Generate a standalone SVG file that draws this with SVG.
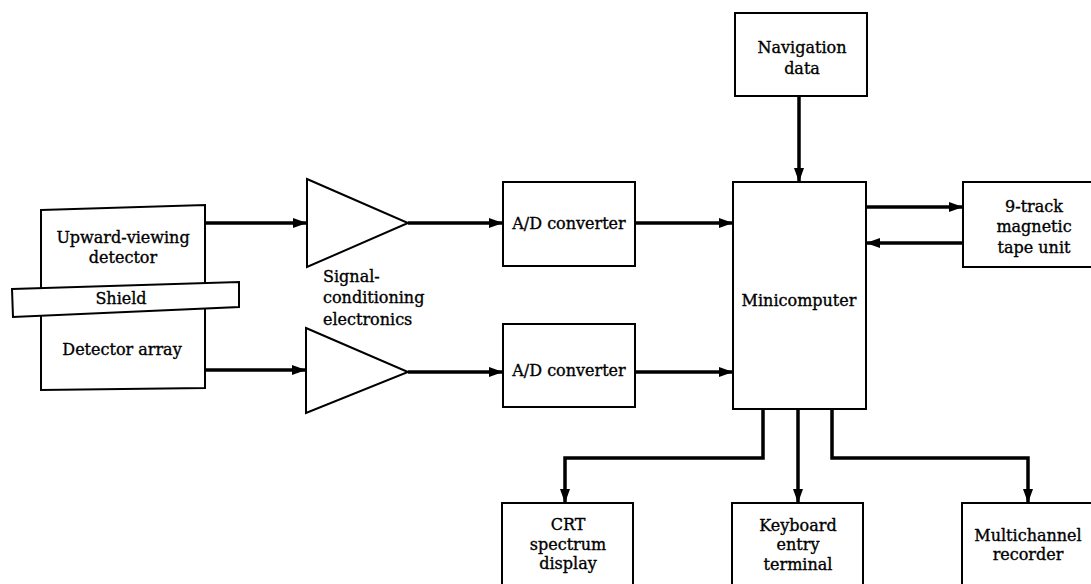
<svg xmlns="http://www.w3.org/2000/svg" width="1091" height="584" viewBox="0 0 1091 584">
<defs>
<style>
.box{fill:#fff;stroke:#000;stroke-width:2}
.t{font-family:"DejaVu Serif","Liberation Serif",serif;font-size:16px;fill:#000;stroke:#000;stroke-width:0.35;text-anchor:middle}
.tl{font-family:"DejaVu Serif","Liberation Serif",serif;font-size:16px;fill:#000;stroke:#000;stroke-width:0.35}
.c{fill:none;stroke:#000;stroke-width:3.5}
</style>
<marker id="ah" viewBox="0 0 14 10" refX="14" refY="5" markerWidth="14" markerHeight="10" markerUnits="userSpaceOnUse" orient="auto">
<path d="M0,0 L14,5 L0,10 Z" fill="#000"/>
</marker>
</defs>
<rect width="1091" height="584" fill="#fff"/>

<g id="detector">
<polygon class="box" points="41,210 205,205 205,388 41,390"/>
<text class="t" x="123" y="243">Upward-viewing</text>
<text class="t" x="123" y="263">detector</text>
<text class="t" x="122" y="355">Detector array</text>
</g>
<g id="shield">
<polygon class="box" points="12,289 239,282 239,307 13,317"/>
<text class="t" x="121" y="304">Shield</text>
</g>

<g id="amp-top">
<polygon class="box" points="307,179 408,223 307,267"/>
</g>
<g id="amp-bottom">
<polygon class="box" points="306,328 408,372 306,413"/>
</g>
<g id="amp-label">
<text class="tl" x="323" y="282">Signal-</text>
<text class="tl" x="323" y="303">conditioning</text>
<text class="tl" x="323" y="325">electronics</text>
</g>

<g id="ad-top">
<rect class="box" x="503" y="182" width="132" height="84"/>
<text class="t" x="569" y="229">A/D converter</text>
</g>
<g id="ad-bottom">
<rect class="box" x="503" y="324" width="132" height="83"/>
<text class="t" x="569" y="376">A/D converter</text>
</g>

<g id="navigation">
<rect class="box" x="735" y="13" width="132" height="83"/>
<text class="t" x="802" y="53">Navigation</text>
<text class="t" x="802" y="74">data</text>
</g>

<g id="minicomputer">
<rect class="box" x="733" y="182" width="133" height="227"/>
<text class="t" x="799" y="306">Minicomputer</text>
</g>

<g id="tape">
<rect class="box" x="963" y="182" width="130" height="85"/>
<text class="t" x="1034" y="212">9-track</text>
<text class="t" x="1034" y="232">magnetic</text>
<text class="t" x="1034" y="253">tape unit</text>
</g>

<g id="crt">
<rect class="box" x="502" y="503" width="131" height="90"/>
<text class="t" x="568" y="530">CRT</text>
<text class="t" x="568" y="550">spectrum</text>
<text class="t" x="568" y="569">display</text>
</g>
<g id="keyboard">
<rect class="box" x="732" y="503" width="131" height="90"/>
<text class="t" x="798" y="531">Keyboard</text>
<text class="t" x="798" y="550">entry</text>
<text class="t" x="798" y="570">terminal</text>
</g>
<g id="recorder">
<rect class="box" x="962" y="503" width="131" height="90"/>
<text class="t" x="1028" y="541">Multichannel</text>
<text class="t" x="1028" y="560">recorder</text>
</g>

<g id="connectors">
<path class="c" d="M205,223 H307" marker-end="url(#ah)"/>
<path class="c" d="M205,370 H306" marker-end="url(#ah)"/>
<path class="c" d="M408,223 H503" marker-end="url(#ah)"/>
<path class="c" d="M408,372 H503" marker-end="url(#ah)"/>
<path class="c" d="M635,223 H733" marker-end="url(#ah)"/>
<path class="c" d="M635,372 H733" marker-end="url(#ah)"/>
<path class="c" d="M799,96 V182" marker-end="url(#ah)"/>
<path class="c" d="M866,207 H963" marker-end="url(#ah)"/>
<path class="c" d="M963,243 H866" marker-end="url(#ah)"/>
<path class="c" d="M763,409 V458 H565 V503" marker-end="url(#ah)"/>
<path class="c" d="M798,409 V503" marker-end="url(#ah)"/>
<path class="c" d="M832,409 V458 H1028 V503" marker-end="url(#ah)"/>
</g>
</svg>
